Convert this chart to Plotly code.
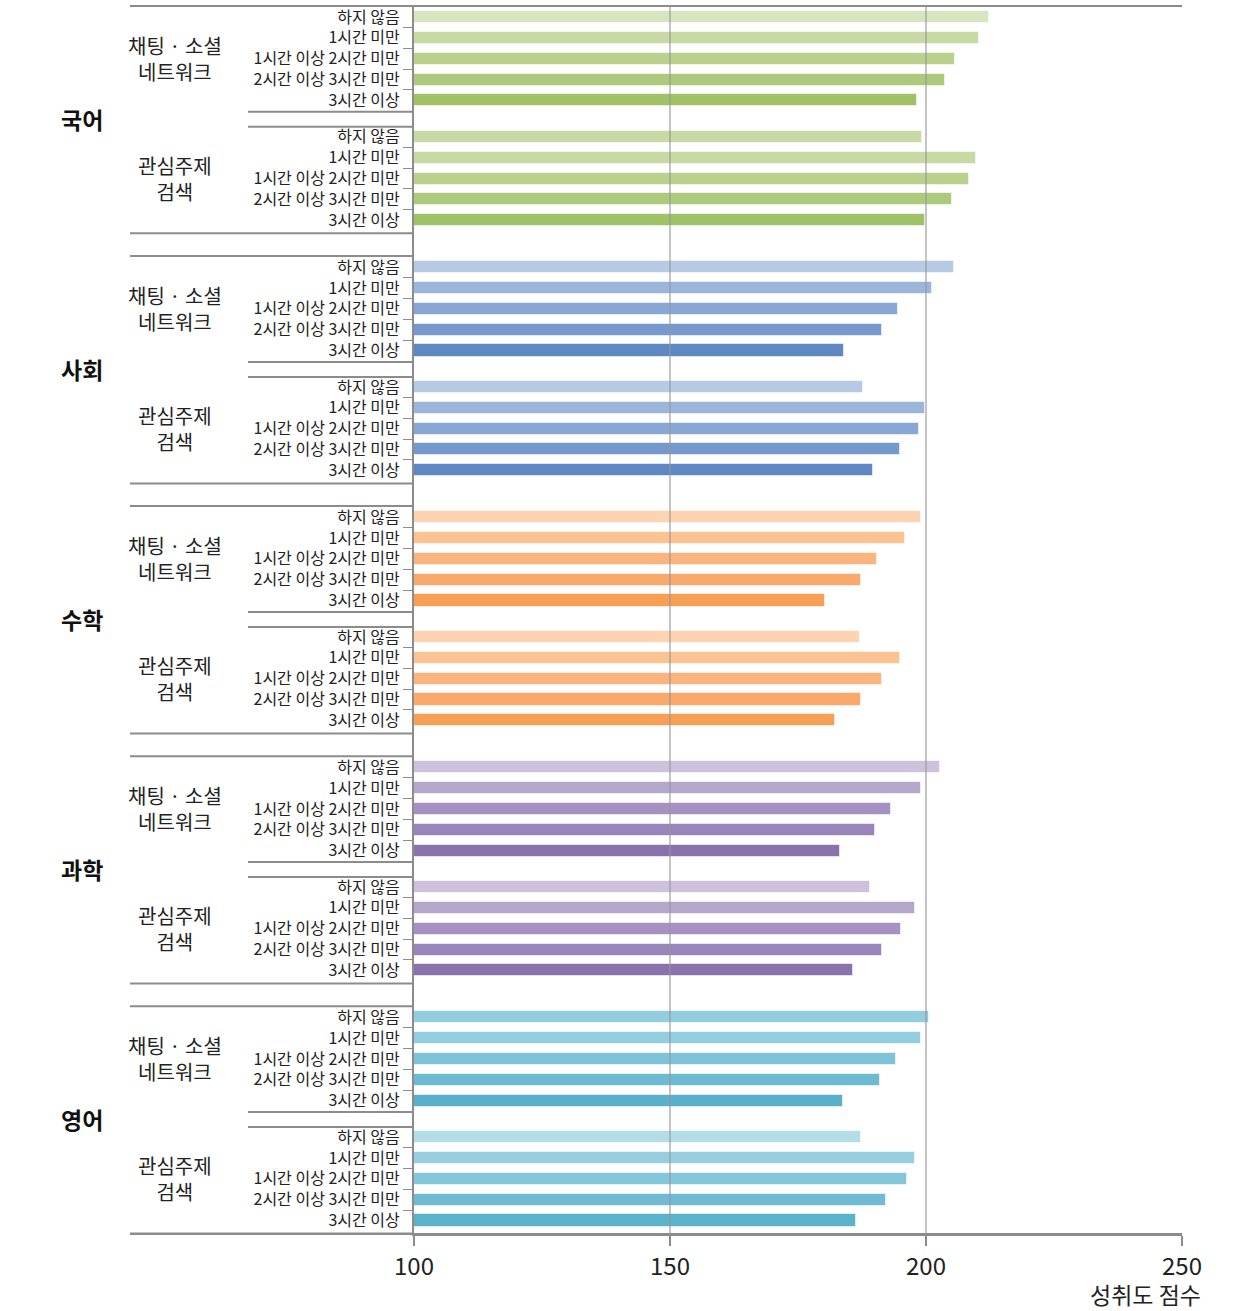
import plotly.graph_objects as go

# ---------------- data ----------------
subjects = ["국어", "사회", "수학", "과학", "영어"]
groups = ["채팅 · 소셜<br>네트워크", "관심주제<br>검색"]
time_labels = ["하지 않음", "1시간 미만", "1시간 이상 2시간 미만", "2시간 이상 3시간 미만", "3시간 이상"]

korean_chat = [212.3, 210.4, 205.7, 203.7, 198.2]
korean_search = [199.2, 209.8, 208.4, 205.1, 199.8]
social_chat = [205.5, 201.2, 194.5, 191.4, 184.0]
social_search = [187.7, 199.8, 198.6, 194.9, 189.6]
math_chat = [199.0, 195.9, 190.4, 187.3, 180.3]
math_search = [187.1, 194.9, 191.4, 187.3, 182.2]
science_chat = [202.7, 199.0, 193.2, 190.0, 183.2]
science_search = [189.1, 197.9, 195.1, 191.4, 185.7]
english_chat = [200.6, 199.0, 194.1, 191.0, 183.8]
english_search = [187.3, 197.9, 196.3, 192.2, 186.3]

x_ticks = [100, 150, 200, 250]
x_title = "성취도 점수"

# ---------------- styles ----------------
colors = {
    "국어": (["#d8e6c0", "#c7daa3", "#b9d18d", "#adca7c", "#a0c266"],
            ["#c7daa3", "#c7daa3", "#b9d18d", "#adca7c", "#a0c266"]),
    "사회": (["#b7cae4", "#9bb5db", "#88a7d4", "#7599cc", "#5f88c2"],
            ["#b7cae4", "#9bb5db", "#88a7d4", "#7599cc", "#5f88c2"]),
    "수학": (["#fdd3b2", "#fbc292", "#f9b47f", "#f8a96b", "#f69f55"],
            ["#fdd3b2", "#fbc292", "#f9b47f", "#f8a96b", "#f69f55"]),
    "과학": (["#cec1dc", "#b5a6cb", "#a692c2", "#9a85ba", "#8a72ad"],
            ["#cec1dc", "#b5a6cb", "#a692c2", "#9a85ba", "#8a72ad"]),
    "영어": (["#93cde0", "#93cde0", "#7fc3d8", "#6dbad2", "#58b0ca"],
            ["#b5dde8", "#98cfe0", "#84c6da", "#6ebbd3", "#5bb2cb"]),
}
series = {
    "국어": (korean_chat, korean_search),
    "사회": (social_chat, social_search),
    "수학": (math_chat, math_search),
    "과학": (science_chat, science_search),
    "영어": (english_chat, english_search),
}

FONT = "Noto Sans CJK KR"
LINE = "#8c8c8c"
PERIOD = 12.0
GROUP_OFF = 5.75

fig = go.Figure()
tickvals, ticktext, minor_vals = [], [], []
shapes, annotations = [], []

X_SUBJ = (130 - 414) / 768
X_GRP = (248 - 414) / 768
X_GLBL = (175 - 414) / 768
X_SLBL = (82 - 414) / 768

for si, subj in enumerate(subjects):
    base = si * PERIOD
    for gi in range(2):
        vals = series[subj][gi]
        ys = [base + gi * GROUP_OFF + k for k in range(5)]
        fig.add_trace(go.Bar(
            x=vals, y=ys, orientation="h", width=0.58,
            marker=dict(color=colors[subj][gi],
                        line=dict(color="rgba(255,255,255,0.55)", width=1)),
            showlegend=False, hoverinfo="x",
        ))
        tickvals += ys
        ticktext += time_labels
        minor_vals += [y + 0.5 for y in ys[:-1]]
        annotations.append(dict(
            x=X_GLBL, xref="paper", y=base + gi * GROUP_OFF + 2, yref="y",
            text=groups[gi], showarrow=False, xanchor="center", yanchor="middle",
            align="center", font=dict(family=FONT, size=20, color="#222"),
        ))
    # subgroup separators
    for yv in (base + 4.55, base + 5.27):
        shapes.append(dict(type="line", xref="paper", yref="y", x0=X_GRP, x1=0,
                           y0=yv, y1=yv, line=dict(color=LINE, width=2)))
    # subject separators
    shapes.append(dict(type="line", xref="paper", yref="y", x0=X_SUBJ, x1=0,
                       y0=base + 10.38, y1=base + 10.38, line=dict(color=LINE, width=2)))
    if si > 0:
        shapes.append(dict(type="line", xref="paper", yref="y", x0=X_SUBJ, x1=0,
                           y0=base - 0.53, y1=base - 0.53, line=dict(color=LINE, width=2)))
    annotations.append(dict(
        x=X_SLBL, xref="paper", y=base + 4.875, yref="y",
        text="<b>" + subj + "</b>", showarrow=False, xanchor="center", yanchor="middle",
        font=dict(family=FONT, size=23, color="#111"),
    ))

# top border line
shapes.append(dict(type="line", xref="paper", yref="paper", x0=X_SUBJ, x1=1, y0=1, y1=1,
                   line=dict(color=LINE, width=2)))
# bottom line (left extension)
shapes.append(dict(type="line", xref="paper", yref="paper", x0=X_SUBJ, x1=1, y0=0, y1=0,
                   line=dict(color=LINE, width=2)))
# gridlines
for gx in (150, 200):
    shapes.append(dict(type="line", xref="x", yref="paper", x0=gx, x1=gx, y0=0, y1=1,
                       layer="above", line=dict(color="rgba(150,150,150,0.75)", width=1.5)))

annotations.append(dict(
    x=(1203 - 414) / 768, xref="paper", y=(1234 - 1294) / 1230, yref="paper",
    text=x_title, showarrow=False, xanchor="right", yanchor="middle",
    font=dict(family=FONT, size=23, color="#222"),
))

fig.update_layout(
    width=1240, height=1311,
    margin=dict(l=414, r=58, t=4, b=77),
    paper_bgcolor="white", plot_bgcolor="white",
    bargap=0, barmode="overlay",
    shapes=shapes, annotations=annotations,
    font=dict(family=FONT, color="#222"),
    xaxis=dict(range=[100, 250], tickvals=x_ticks, showgrid=False, zeroline=False,
               showline=True, linecolor=LINE, linewidth=2,
               ticks="outside", ticklen=10, tickcolor=LINE, tickwidth=1.5,
               tickfont=dict(family=FONT, size=24, color="#222")),
    yaxis=dict(range=[58.4, -0.53], tickvals=tickvals, ticktext=ticktext,
               showgrid=False, zeroline=False, showline=True, linecolor=LINE, linewidth=2,
               ticks="outside", ticklen=9, tickcolor="rgba(0,0,0,0)",
               tickfont=dict(family=FONT, size=16, color="#222"),
               minor=dict(tickvals=minor_vals, ticks="outside", ticklen=9,
                          tickcolor=LINE, tickwidth=1.2, showgrid=False)),
)

fig.write_html("out.html", config={"displayModeBar": False},
               post_script="document.body.style.margin='0';document.body.style.overflow='hidden';")
